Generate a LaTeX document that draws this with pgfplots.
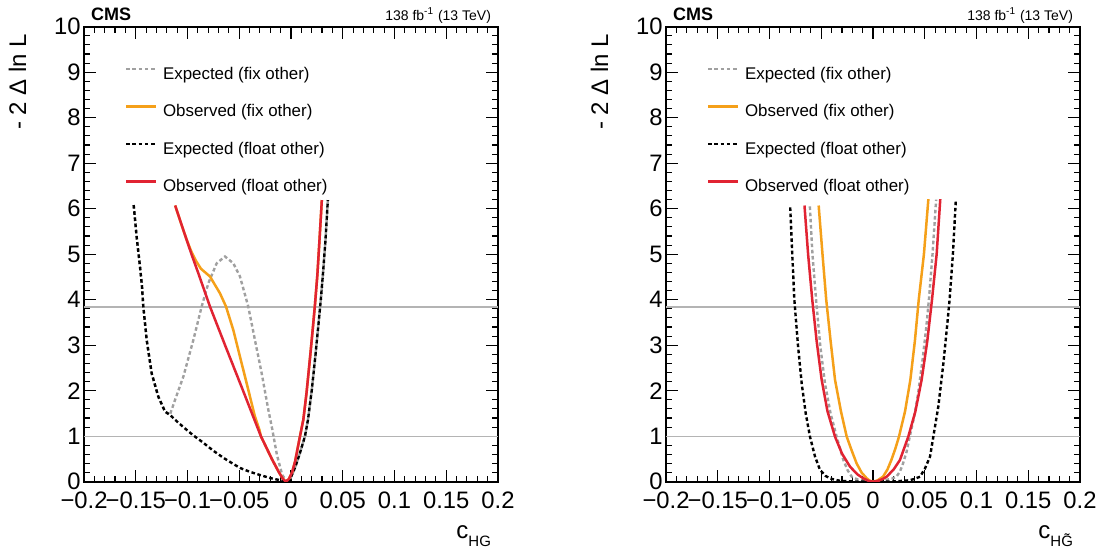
\documentclass[border=0pt]{standalone}
\usepackage{fontspec}
\setmainfont{Liberation Sans}
\usepackage{pgfplots}
\pgfplotsset{compat=1.18}
\definecolor{cmsorange}{RGB}{245,160,25}
\definecolor{cmsred}{RGB}{225,35,50}
\definecolor{cmsgray}{RGB}{160,160,160}
\definecolor{refgray}{RGB}{180,180,180}
\pgfplotsset{
  cmspanel/.style={
    scale only axis, width=207pt, height=227.5pt,
    xmin=-0.2, xmax=0.2, ymin=0, ymax=10,
    xtick={-0.2,-0.15,-0.1,-0.05,0,0.05,0.1,0.15,0.2},
    xticklabels={−0.2,−0.15,−0.1,−0.05,0,0.05,0.1,0.15,0.2},
    ytick={0,1,2,3,4,5,6,7,8,9,10},
    yticklabels={0,1,2,3,4,5,6,7,8,9,10},
    minor x tick num=4, minor y tick num=4,
    tick align=inside, tick pos=both,
    major tick length=6pt, minor tick length=3pt,
    tick style={black, line width=0.55pt},
    axis line style={line width=1pt},
    ticklabel style={font=\fontsize{11.9}{14}\selectfont},
    xticklabel style={anchor=north, inner sep=0pt, yshift=-5pt},
    yticklabel style={anchor=east, inner sep=0pt, xshift=-1.5pt},
    label style={font=\fontsize{12}{14}\selectfont},
    ylabel={- 2 Δ ln L},
    ylabel style={at={(axis description cs:-0.140,1)}, anchor=base east},
    xlabel style={at={(axis description cs:1,0)}, anchor=base east, yshift=-28.2pt},
    legend cell align=left,
    legend style={draw=none, fill=none, inner sep=0pt, outer sep=0pt,
      at={(axis description cs:0.099,0.9114)}, anchor=north west,
      font=\fontsize{8.45}{10}\selectfont, row sep=10.75pt, column sep=2.8pt,
      nodes={inner sep=0pt, text height=6.2pt, text depth=1.8pt}},
    legend image code/.code={\draw[##1] (0pt,2.9pt) -- (15pt,2.9pt);},
  },
  expfix/.style={cmsgray, line width=1.2pt, dash pattern=on 1.8pt off 1.3pt},
  obsfix/.style={cmsorange, line width=1.25pt},
  expfloat/.style={black, line width=1.2pt, dash pattern=on 1.8pt off 1.3pt},
  obsfloat/.style={cmsred, line width=1.25pt},
  refline/.style={refgray, line width=0.7pt, forget plot},
}
\begin{document}
\begin{tikzpicture}
\path[use as bounding box] (0,0) rectangle (551pt,275.5pt);
% ---------------- left panel: c_HG ----------------
\begin{axis}[cmspanel, name=L, at={(42pt,34.65pt)}, anchor=south west,
  xlabel={c\raisebox{-4.3pt}{\fontsize{7.5}{9}\selectfont HG}}]
\addplot[refline] coordinates {(-0.2,1) (0.2,1)};
\addplot[refline] coordinates {(-0.2,3.84) (0.2,3.84)};
\addplot[expfix] coordinates {
(-0.1520,6.08) (-0.1490,5.35) (-0.1460,4.75) (-0.1440,4.30) (-0.1427,3.85)
(-0.1394,3.11) (-0.1346,2.38) (-0.1282,1.87) (-0.1217,1.54) (-0.1170,1.47)
(-0.1120,1.80) (-0.1040,2.31) (-0.0944,3.11) (-0.0863,3.85) (-0.0799,4.36)
(-0.0718,4.80) (-0.0638,4.95) (-0.0557,4.80) (-0.0493,4.51) (-0.0413,3.85)
(-0.0348,3.11) (-0.0283,2.38) (-0.0219,1.58) (-0.0185,1.20) (-0.0136,0.59)
(-0.0085,0.15) (-0.0040,0.00) (-0.0010,0.06) (0.0020,0.20) (0.0050,0.38)
(0.0085,0.62) (0.0135,1.00) (0.0164,1.36) (0.0200,2.00) (0.0235,2.75)
(0.0265,3.45) (0.0288,4.00) (0.0310,4.60) (0.0333,5.30) (0.0356,6.19)};
\addlegendentry{Expected (fix other)}
\addplot[obsfix] coordinates {
(-0.1119,6.07) (-0.1060,5.66) (-0.1010,5.33) (-0.0965,5.07) (-0.0920,4.86)
(-0.0870,4.68) (-0.0783,4.51) (-0.0686,4.14) (-0.0628,3.85) (-0.0557,3.33)
(-0.0493,2.75) (-0.0428,2.16) (-0.0348,1.43) (-0.0305,1.14) (-0.0291,1.00)
(-0.0185,0.50) (-0.0120,0.22) (-0.0080,0.07) (-0.0050,0.00) (-0.0020,0.06)
(0.0010,0.20) (0.0040,0.45) (0.0087,1.00) (0.0119,1.36) (0.0150,1.95)
(0.0185,2.75) (0.0210,3.35) (0.0232,3.90) (0.0255,4.55) (0.0275,5.30)
(0.0298,6.19)};
\addlegendentry{Observed (fix other)}
\addplot[expfloat] coordinates {
(-0.1520,6.08) (-0.1490,5.35) (-0.1460,4.75) (-0.1440,4.30) (-0.1427,3.85)
(-0.1394,3.11) (-0.1346,2.38) (-0.1282,1.87) (-0.1217,1.54) (-0.1170,1.47)
(-0.1100,1.32) (-0.1024,1.17) (-0.0950,1.03) (-0.0850,0.86) (-0.0750,0.68)
(-0.0650,0.52) (-0.0550,0.38) (-0.0490,0.30) (-0.0400,0.22) (-0.0300,0.147)
(-0.0200,0.08) (-0.0120,0.04) (-0.0060,0.01) (-0.0040,0.00) (-0.0010,0.06)
(0.0020,0.20) (0.0050,0.38) (0.0085,0.62) (0.0135,1.00) (0.0164,1.36)
(0.0200,2.00) (0.0235,2.75) (0.0265,3.45) (0.0288,4.00) (0.0310,4.60)
(0.0333,5.30) (0.0356,6.19)};
\addlegendentry{Expected (float other)}
\addplot[obsfloat] coordinates {
(-0.1119,6.07) (-0.1040,5.53) (-0.0960,4.99) (-0.0892,4.56) (-0.0783,3.85)
(-0.0637,3.00) (-0.0463,2.00) (-0.0291,1.00) (-0.0185,0.50) (-0.0120,0.22)
(-0.0080,0.07) (-0.0050,0.00) (-0.0020,0.06) (0.0010,0.20) (0.0040,0.45)
(0.0087,1.00) (0.0119,1.36) (0.0150,1.95) (0.0185,2.75) (0.0210,3.35)
(0.0232,3.90) (0.0255,4.55) (0.0275,5.30) (0.0298,6.19)};
\addlegendentry{Observed (float other)}
\end{axis}
\node[anchor=base west, font=\bfseries\fontsize{9}{10}\selectfont] at ([yshift=3pt]L.north west) {CMS};
\node[anchor=base east, font=\fontsize{7}{8}\selectfont] at ([yshift=3pt]L.north east) {138 fb\textsuperscript{-1} (13 TeV)};
% ---------------- right panel: c_HGtilde ----------------
\begin{axis}[cmspanel, name=R, at={(333pt,34.65pt)}, anchor=south west,
  xlabel={c\raisebox{-4.3pt}{\fontsize{7.5}{9}\selectfont H\~G}}]
\addplot[refline] coordinates {(-0.2,1) (0.2,1)};
\addplot[refline] coordinates {(-0.2,3.84) (0.2,3.84)};
\addplot[expfix] coordinates {
(-0.0610,6.05) (-0.0585,5.00) (-0.0550,4.00) (-0.0510,3.00) (-0.0464,2.16)
(-0.0410,1.50) (-0.0351,0.99) (-0.0287,0.48) (-0.0245,0.25) (-0.0206,0.11)
(-0.0150,0.05) (-0.0094,0.02) (0.0000,0.00) (0.0070,0.01) (0.0129,0.04)
(0.0185,0.07) (0.0226,0.11) (0.0260,0.22) (0.0290,0.40) (0.0325,0.66)
(0.0355,0.99) (0.0400,1.45) (0.0436,1.94) (0.0480,2.70) (0.0515,3.40)
(0.0540,4.00) (0.0575,5.00) (0.0610,6.20)};
\addlegendentry{Expected (fix other)}
\addplot[obsfix] coordinates {
(-0.0525,6.07) (-0.0488,5.00) (-0.0452,4.00) (-0.0410,3.10) (-0.0367,2.24)
(-0.0310,1.55) (-0.0254,0.99) (-0.0205,0.68) (-0.0158,0.40) (-0.0110,0.20)
(-0.0061,0.075) (-0.0030,0.02) (0.0000,0.00) (0.0040,0.025) (0.0097,0.11)
(0.0140,0.27) (0.0178,0.48) (0.0215,0.72) (0.0251,0.99) (0.0310,1.55)
(0.0361,2.24) (0.0405,3.10) (0.0442,4.00) (0.0492,5.00) (0.0535,6.21)};
\addlegendentry{Observed (fix other)}
\addplot[expfloat] coordinates {
(-0.0800,6.03) (-0.0780,5.00) (-0.0760,4.00) (-0.0725,3.00) (-0.0689,2.16)
(-0.0650,1.50) (-0.0609,0.99) (-0.0560,0.55) (-0.0512,0.26) (-0.0460,0.13)
(-0.0415,0.07) (-0.0320,0.02) (-0.0200,0.005) (0.0000,0.00) (0.0200,0.005)
(0.0350,0.03) (0.0400,0.06) (0.0454,0.11) (0.0500,0.28) (0.0551,0.55)
(0.0583,0.99) (0.0631,1.65) (0.0680,2.60) (0.0715,3.40) (0.0740,4.00)
(0.0772,5.00) (0.0800,6.18)};
\addlegendentry{Expected (float other)}
\addplot[obsfloat] coordinates {
(-0.0662,6.07) (-0.0627,5.00) (-0.0587,4.00) (-0.0545,3.10) (-0.0496,2.24)
(-0.0440,1.55) (-0.0367,0.99) (-0.0300,0.62) (-0.0222,0.33) (-0.0150,0.16)
(-0.0094,0.075) (-0.0040,0.015) (0.0003,0.00) (0.0050,0.02) (0.0095,0.06)
(0.0132,0.11) (0.0200,0.27) (0.0261,0.48) (0.0341,0.99) (0.0410,1.55)
(0.0470,2.24) (0.0525,3.10) (0.0570,4.00) (0.0615,5.00) (0.0650,6.21)};
\addlegendentry{Observed (float other)}
\end{axis}
\node[anchor=base west, font=\bfseries\fontsize{9}{10}\selectfont] at ([yshift=3pt]R.north west) {CMS};
\node[anchor=base east, font=\fontsize{7}{8}\selectfont] at ([yshift=3pt]R.north east) {138 fb\textsuperscript{-1} (13 TeV)};
\end{tikzpicture}
\end{document}
